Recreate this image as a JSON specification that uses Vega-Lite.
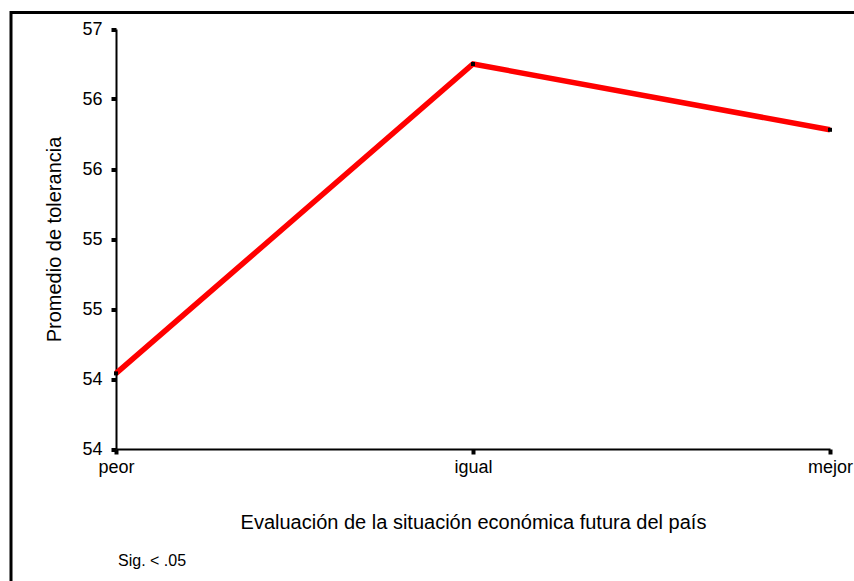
{
  "$schema": "https://vega.github.io/schema/vega-lite/v6.json",
  "width": 924,
  "height": 600,
  "autosize": {"type": "none"},
  "padding": {"left": 11, "top": 12.5, "right": 0, "bottom": 0},
  "background": "white",
  "config": {
    "view": {"stroke": "black", "strokeWidth": 3},
    "font": "Liberation Sans",
    "axis": {
      "grid": false,
      "domainColor": "black",
      "domainWidth": 2,
      "tickColor": "black",
      "labelColor": "black",
      "titleColor": "black",
      "labelFont": "Liberation Sans",
      "titleFont": "Liberation Sans",
      "titleFontWeight": "normal"
    }
  },
  "data": {
    "values": [
      {"situacion": "peor", "promedio": 54.54},
      {"situacion": "igual", "promedio": 56.75},
      {"situacion": "mejor", "promedio": 56.28}
    ]
  },
  "layer": [
    {
      "mark": {"type": "line", "color": "#ff0000", "strokeWidth": 5.5},
      "encoding": {
        "x": {
          "field": "situacion",
          "type": "ordinal",
          "sort": ["peor", "igual", "mejor"],
          "scale": {"type": "point", "range": [105, 819], "padding": 0},
          "axis": {
            "orient": "bottom",
            "offset": -163.5,
            "labelAngle": 0,
            "tickSize": 5,
            "tickWidth": 4,
            "labelPadding": 4,
            "labelFontSize": 18,
            "title": "Evaluación de la situación económica futura del país",
            "titleFontSize": 20,
            "titleY": 79,
            "titleBaseline": "alphabetic"
          }
        },
        "y": {
          "field": "promedio",
          "type": "quantitative",
          "scale": {"domain": [54, 57], "range": [436.5, 16.5], "nice": false, "zero": false},
          "axis": {
            "values": [54, 54.5, 55, 55.5, 56, 56.5, 57],
            "labelExpr": "floor(datum.value)",
            "offset": -105,
            "tickSize": 5,
            "tickWidth": 4,
            "labelPadding": 9,
            "labelFontSize": 18,
            "title": "Promedio de tolerancia",
            "titleFontSize": 20,
            "titleX": -62,
            "titleBaseline": "middle"
          }
        }
      }
    },
    {
      "mark": {"type": "square", "color": "black", "size": 16, "opacity": 1},
      "encoding": {
        "x": {"field": "situacion", "type": "ordinal", "sort": ["peor", "igual", "mejor"]},
        "y": {"field": "promedio", "type": "quantitative"}
      }
    },
    {
      "data": {"values": [{"nota": "Sig. < .05"}]},
      "mark": {"type": "text", "align": "left", "baseline": "alphabetic", "fontSize": 16, "dx": 2, "color": "black"},
      "encoding": {
        "x": {"datum": "peor", "type": "ordinal"},
        "y": {"datum": 53.164, "type": "quantitative"},
        "text": {"field": "nota"}
      }
    }
  ]
}
